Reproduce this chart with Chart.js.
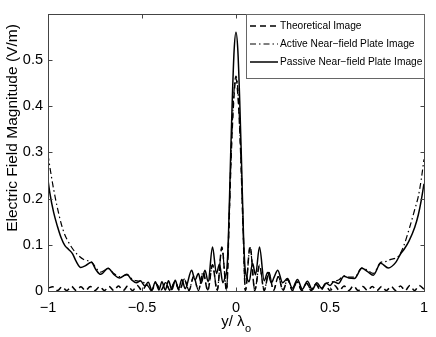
<!DOCTYPE html>
<html lang="en">
<head>
<meta charset="UTF-8">
<title>Electric Field Magnitude</title>
<script src="https://cdn.jsdelivr.net/npm/chart.js"></script>
<style>
  html, body { margin: 0; padding: 0; background: #fff; }
  #wrap { width: 436px; height: 337px; }
</style>
</head>
<body>
<div id="wrap"><canvas id="myChart"></canvas></div>

<script>
    // values
    const seriesLabels = ['Theoretical Image', 'Active Near\u2212field Plate Image', 'Passive Near\u2212field Plate Image'];
    const yTitle = 'Electric Field Magnitude (V/m)';
    const xTicks = [-1, -0.5, 0, 0.5, 1];
    const yTicks = [0, 0.1, 0.2, 0.3, 0.4, 0.5];

    const theoX = [-1, -0.975, -0.95, -0.925, -0.9, -0.875, -0.85, -0.825, -0.8, -0.775, -0.75, -0.725, -0.7, -0.675, -0.65,
        -0.625, -0.6, -0.575, -0.55, -0.525, -0.5, -0.475, -0.45, -0.425, -0.4, -0.375, -0.35, -0.325, -0.3, -0.275,
        -0.25, -0.225, -0.2, -0.175, -0.15, -0.125, -0.1, -0.075, -0.05, -0.0375, -0.025, -0.0125, 0,
        0.0125, 0.025, 0.0375, 0.05, 0.075, 0.1, 0.125, 0.15, 0.175, 0.2, 0.225, 0.25, 0.275, 0.3, 0.325, 0.35,
        0.375, 0.4, 0.425, 0.45, 0.475, 0.5, 0.525, 0.55, 0.575, 0.6, 0.625, 0.65, 0.675, 0.7, 0.725, 0.75,
        0.775, 0.8, 0.825, 0.85, 0.875, 0.9, 0.925, 0.95, 0.975, 1];
    const theoY = [0.006, 0.009, 0.001, 0.009, 0.001, 0.010, 0.001, 0.009, 0.001, 0.010, 0.001, 0.010, 0.001, 0.010, 0.001,
        0.011, 0.001, 0.011, 0.001, 0.012, 0.001, 0.013, 0.001, 0.015, 0.001, 0.017, 0.001, 0.020, 0.001, 0.025,
        0.001, 0.031, 0.001, 0.040, 0.001, 0.056, 0.001, 0.095, 0.001, 0.140, 0.300, 0.410, 0.460,
        0.410, 0.300, 0.140, 0.001, 0.096, 0.001, 0.055, 0.001, 0.040, 0.001, 0.031, 0.001, 0.025, 0.001, 0.020, 0.001,
        0.017, 0.001, 0.015, 0.001, 0.013, 0.001, 0.012, 0.001, 0.011, 0.001, 0.011, 0.001, 0.010, 0.001, 0.010, 0.001,
        0.010, 0.001, 0.010, 0.001, 0.011, 0.001, 0.012, 0.001, 0.012, 0.004];

    const activeX = [-1, -0.99, -0.97, -0.95, -0.93, -0.91, -0.894, -0.87, -0.844, -0.81, -0.783, -0.765, -0.745, -0.72,
        -0.695, -0.68, -0.65, -0.62, -0.58, -0.55, -0.525, -0.5, -0.475, -0.45, -0.425, -0.4, -0.375, -0.35, -0.325,
        -0.3, -0.275, -0.25, -0.225, -0.2, -0.175, -0.15, -0.125, -0.1, -0.075, -0.05, -0.0375, -0.025, -0.0125, 0,
        0.0125, 0.025, 0.0375, 0.05, 0.075, 0.1, 0.125, 0.15, 0.175, 0.2, 0.225, 0.25, 0.275, 0.3, 0.325, 0.35, 0.375,
        0.4, 0.425, 0.45, 0.475, 0.5, 0.525, 0.55, 0.574, 0.6, 0.63, 0.67, 0.7, 0.73, 0.77, 0.8, 0.82, 0.84, 0.864,
        0.89, 0.924, 0.95, 0.97, 0.985, 1];
    const activeY = [0.295, 0.268, 0.220, 0.180, 0.146, 0.121, 0.108, 0.092, 0.079, 0.068, 0.065, 0.062, 0.050, 0.041,
        0.046, 0.049, 0.038, 0.031, 0.035, 0.025, 0.022, 0.020, 0.014, 0.003, 0.016, 0.002, 0.018, 0.002, 0.021,
        0.002, 0.026, 0.002, 0.032, 0.002, 0.041, 0.002, 0.057, 0.002, 0.093, 0.002, 0.140, 0.305, 0.420, 0.465,
        0.420, 0.300, 0.140, 0.002, 0.094, 0.002, 0.056, 0.002, 0.040, 0.002, 0.031, 0.002, 0.025, 0.002, 0.020, 0.002, 0.017,
        0.003, 0.015, 0.005, 0.016, 0.019, 0.021, 0.025, 0.033, 0.030, 0.030, 0.050, 0.045, 0.038, 0.062, 0.064, 0.068, 0.070, 0.075,
        0.095, 0.138, 0.175, 0.205, 0.240, 0.285];

    const passiveX = [-1, -0.99, -0.97, -0.95, -0.93, -0.91, -0.89, -0.87, -0.85, -0.826, -0.8, -0.77, -0.745, -0.72,
        -0.68, -0.65, -0.62, -0.58, -0.555, -0.53, -0.508, -0.485, -0.467, -0.447, -0.429, -0.41, -0.394, -0.376,
        -0.359, -0.341, -0.323, -0.306, -0.288, -0.27, -0.236, -0.218, -0.2, -0.185, -0.165, -0.148, -0.125, -0.104,
        -0.088, -0.07, -0.058, -0.048, -0.04, -0.03, -0.02, -0.01, 0,
        0.01, 0.02, 0.03, 0.04, 0.048, 0.056, 0.07, 0.088, 0.104, 0.125, 0.15, 0.168, 0.188, 0.203, 0.222, 0.248,
        0.274, 0.3, 0.327, 0.353, 0.38, 0.406, 0.43, 0.455, 0.48, 0.5, 0.52, 0.545, 0.574, 0.6, 0.63, 0.67, 0.7,
        0.73, 0.77, 0.81, 0.85, 0.875, 0.897, 0.92, 0.951, 0.97, 0.985, 1];
    const passiveY = [0.240, 0.212, 0.170, 0.140, 0.115, 0.098, 0.090, 0.081, 0.064, 0.051, 0.055, 0.062, 0.046, 0.036,
        0.049, 0.036, 0.028, 0.036, 0.024, 0.018, 0.022, 0.011, 0.019, 0.002, 0.020, 0.002, 0.020, 0.002,
        0.022, 0.003, 0.023, 0.004, 0.025, 0.005, 0.045, 0.024, 0.038, 0.017, 0.045, 0.020, 0.095, 0.038,
        0.058, 0.018, 0.030, 0.050, 0.120, 0.270, 0.410, 0.520, 0.560,
        0.520, 0.410, 0.270, 0.120, 0.050, 0.032, 0.020, 0.060, 0.035, 0.095, 0.022, 0.040, 0.018, 0.030, 0.045, 0.018,
        0.027, 0.006, 0.025, 0.004, 0.021, 0.003, 0.018, 0.006, 0.017, 0.012, 0.020, 0.016, 0.032, 0.028, 0.027, 0.049, 0.042,
        0.034, 0.060, 0.050, 0.062, 0.080, 0.092, 0.108, 0.138, 0.165, 0.195, 0.232];

    const FONT = "'Liberation Sans', Arial, Helvetica, sans-serif";

    function pts(xs, ys) {
        return xs.map((x, i) => ({ x: x, y: ys[i] }));
    }

    function fmt(v) {
        const s = String(Math.round(Math.abs(v) * 10) / 10);
        return v < 0 ? '\u2212' + s : s;
    }

    // box, inward ticks, legend box, axis titles
    const matlabLook = {
        id: 'matlabLook',
        afterDraw(chart) {
            const ctx = chart.ctx;
            const a = chart.chartArea;
            const xs = chart.scales.x, ys = chart.scales.y;
            const L = Math.round(a.left) + 0.5, R = Math.round(a.right) + 0.5;
            const T = Math.round(a.top) + 0.5, B = Math.round(a.bottom) + 0.5;
            ctx.save();
            ctx.strokeStyle = '#444';
            ctx.lineWidth = 1;
            ctx.setLineDash([]);
            ctx.strokeRect(L, T, R - L, B - T);
            ctx.beginPath();
            xTicks.forEach(v => {
                const px = Math.round(xs.getPixelForValue(v)) + 0.5;
                ctx.moveTo(px, B); ctx.lineTo(px, B - 4);
                ctx.moveTo(px, T); ctx.lineTo(px, T + 4);
            });
            yTicks.forEach(v => {
                const py = Math.round(ys.getPixelForValue(v)) + 0.5;
                ctx.moveTo(L, py); ctx.lineTo(L + 4, py);
                ctx.moveTo(R, py); ctx.lineTo(R - 4, py);
            });
            ctx.stroke();

            // legend
            const bx = 246.5, by = 14.5, bw = 178, bh = 64;
            ctx.fillStyle = '#fff';
            ctx.fillRect(bx, by, bw, bh);
            ctx.strokeStyle = '#666';
            ctx.strokeRect(bx, by, bw, bh);
            const rows = [26, 44, 62];
            chart.data.datasets.forEach((ds, i) => {
                ctx.strokeStyle = '#000';
                ctx.lineWidth = ds.borderWidth;
                ctx.setLineDash(ds.borderDash || []);
                ctx.beginPath();
                ctx.moveTo(250, rows[i]);
                ctx.lineTo(278, rows[i]);
                ctx.stroke();
                ctx.setLineDash([]);
                ctx.fillStyle = '#000';
                ctx.font = '10.2px ' + FONT;
                ctx.textBaseline = 'middle';
                ctx.textAlign = 'left';
                ctx.fillText(ds.label, 280, rows[i] + 0.5);
            });

            // y axis title (sits a bit above the axis middle in the original)
            ctx.save();
            ctx.translate(13, 128);
            ctx.rotate(-Math.PI / 2);
            ctx.font = '15.5px ' + FONT;
            ctx.textAlign = 'center';
            ctx.textBaseline = 'middle';
            ctx.fillText(yTitle, 0, 0);
            ctx.restore();

            // x axis title: y/ lambda_o
            ctx.fillStyle = '#000';
            ctx.textBaseline = 'alphabetic';
            ctx.textAlign = 'left';
            ctx.font = '15px ' + FONT;
            const main = 'y/ \u03bb';
            const w1 = ctx.measureText(main).width;
            ctx.font = '11px ' + FONT;
            const w2 = ctx.measureText('o').width;
            const cx = (a.left + a.right) / 2;
            const x0 = cx - (w1 + w2) / 2;
            ctx.font = '15px ' + FONT;
            ctx.fillText(main, x0, 326);
            ctx.font = '11px ' + FONT;
            ctx.fillText('o', x0 + w1 + 0.5, 332);
            ctx.restore();
        }
    };

    const data = {
        datasets: [
            {
                label: seriesLabels[0],
                data: pts(theoX, theoY),
                borderColor: '#000',
                borderWidth: 1.5,
                borderDash: [6, 4],
            },
            {
                label: seriesLabels[1],
                data: pts(activeX, activeY),
                borderColor: '#000',
                borderWidth: 1.2,
                borderDash: [6, 3, 1.5, 3],
            },
            {
                label: seriesLabels[2],
                data: pts(passiveX, passiveY),
                borderColor: '#000',
                borderWidth: 1.5,
            }
        ]
    };

    const config = {
        type: 'line',
        data: data,
        options: {
            responsive: true,
            maintainAspectRatio: false,
            animation: false,
            layout: { padding: { top: 12, right: 9, left: 0, bottom: 0 } },
            elements: {
                point: { radius: 0 },
                line: { cubicInterpolationMode: 'monotone', fill: false }
            },
            plugins: {
                legend: { display: false },
                tooltip: { enabled: false }
            },
            scales: {
                x: {
                    type: 'linear',
                    min: -1,
                    max: 1,
                    afterFit: s => { s.height = 46; },
                    grid: { display: false, drawTicks: false },
                    border: { display: false },
                    ticks: {
                        stepSize: 0.5,
                        padding: 8,
                        color: '#000',
                        font: { family: FONT, size: 14.5 },
                        maxRotation: 0,
                        callback: v => fmt(v)
                    }
                },
                y: {
                    min: 0,
                    max: 0.6,
                    afterFit: s => { s.width = 48; },
                    grid: { display: false, drawTicks: false },
                    border: { display: false },
                    ticks: {
                        stepSize: 0.1,
                        padding: 5,
                        color: '#000',
                        font: { family: FONT, size: 14.5 },
                        callback: v => (v > 0.55 ? '' : fmt(v))
                    }
                }
            }
        },
        plugins: [matlabLook]
    };

    const myChart = new Chart(
        document.getElementById('myChart'),
        config
    );
</script>
</body>
</html>
